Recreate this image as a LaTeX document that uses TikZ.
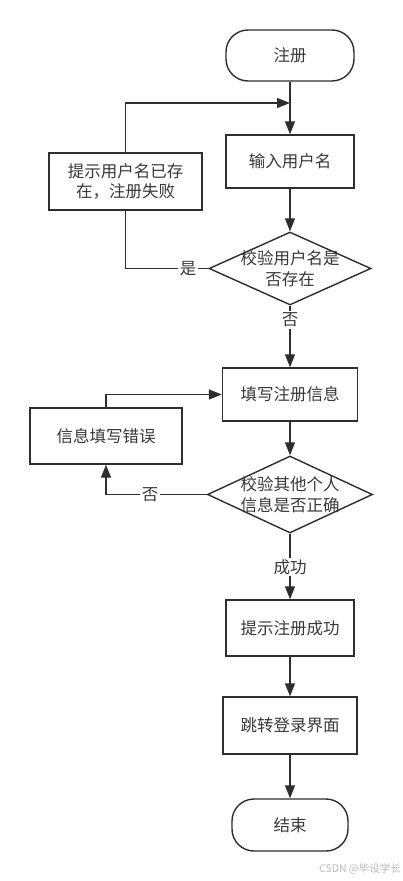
\documentclass[tikz,border=0pt]{standalone}
\usepackage{fontspec}
\setmainfont{Noto Sans CJK SC}
\usetikzlibrary{arrows.meta,shapes.geometric}
\definecolor{lc}{HTML}{2E2E2E}
\definecolor{tc}{HTML}{383838}
\definecolor{wm}{HTML}{BBBBBB}
\newcommand{\fs}{\fontsize{16.5pt}{20.5pt}\selectfont}
\begin{document}
\begin{tikzpicture}[x=1pt,y=-1pt,
  box/.style={draw=lc, line width=1.4pt, fill=white, font=\fs, text=tc, align=center, inner sep=0pt},
  term/.style={box, rounded corners=22pt},
  dec/.style={diamond, draw=lc, line width=1.4pt, fill=white, font=\fs, text=tc, align=center, inner sep=-9pt, aspect=2.2},
  arr/.style={draw=lc, line width=1.4pt, -{Triangle[length=13pt,width=10pt]}},
  ln/.style={draw=lc, line width=1.4pt},
  lab/.style={fill=white, font=\fs, text=tc, inner sep=1.5pt}]
\useasboundingbox (0,0) rectangle (403,881);
\fill[white] (0,0) rectangle (403,881);

\node[term, minimum width=128pt, minimum height=51pt] (start) at (290,55.5) {注册};
\node[box, minimum width=128pt, minimum height=53pt] (input) at (290,161.5) {输入用户名};
\node[box, minimum width=153pt, minimum height=57pt] (fail) at (125.5,181.5) {提示用户名已存\\在，注册失败};
\node[dec, minimum width=162pt, minimum height=73pt] (d1) at (290,268.5) {校验用户名是\\否存在};
\node[box, minimum width=135pt, minimum height=53pt] (fillinfo) at (290,394.5) {填写注册信息};
\node[box, minimum width=152pt, minimum height=56pt] (err) at (106,436) {信息填写错误};
\node[dec, minimum width=165pt, minimum height=77pt] (d2) at (290,494.5) {校验其他个人\\信息是否正确};
\node[box, minimum width=128pt, minimum height=56pt] (succ) at (290,628) {提示注册成功};
\node[box, minimum width=134pt, minimum height=57pt] (jump) at (290,725.5) {跳转登录界面};
\node[term, minimum width=116pt, minimum height=52pt] (end) at (290,825) {结束};

\coordinate (m1) at (290,103);

\draw[arr] (start) -- (input);
\draw[arr] (input) -- (d1);
\draw[ln] (d1.west) -| (fail.south);
\draw[arr] (fail.north) |- (m1);
\draw[arr] (d1) -- (fillinfo);
\draw[arr] (fillinfo) -- (d2);
\draw[arr] (d2.west) -| (err.south);
\draw[arr] (err.north) |- (fillinfo.west);
\draw[arr] (d2) -- (succ);
\draw[arr] (succ) -- (jump);
\draw[arr] (jump) -- (end);

\node[lab] (lyes) at (188,268.5) {是};
\node[lab] (lno1) at (290,320) {否};
\node[lab] (lno2) at (150,494.5) {否};
\node[lab] (lok) at (290,567) {成功};

\node[font=\fontsize{10.5pt}{12pt}\selectfont, text=wm, inner sep=0pt] (wmk) at (360,869) {CSDN @毕设学长};
\end{tikzpicture}
\end{document}
